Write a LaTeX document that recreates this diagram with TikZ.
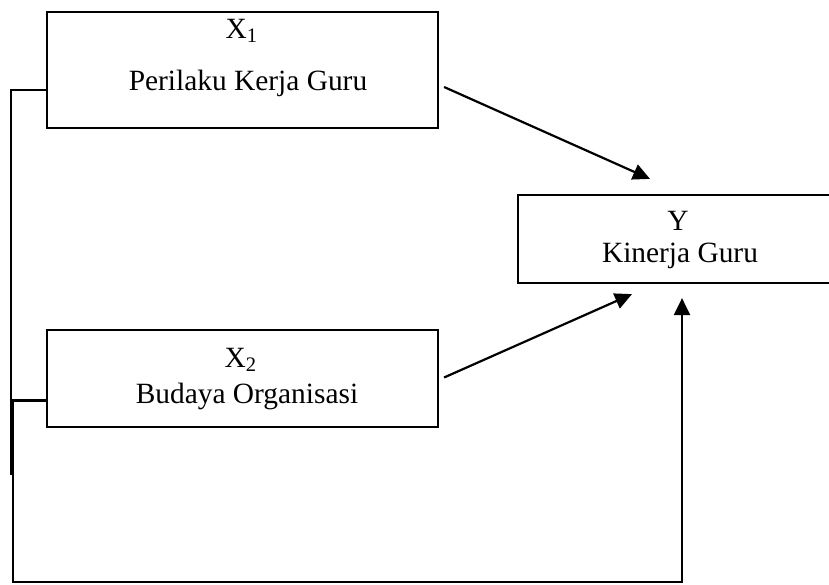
\documentclass[tikz,border=0pt]{standalone}
\usepackage{fontspec}
\setmainfont{Liberation Serif}
\usetikzlibrary{arrows.meta,positioning}
\tikzset{
  varbox/.style={rectangle,draw=black,line width=1.1pt,inner sep=0pt},
  lbl/.style={anchor=base,inner sep=0pt,font=\fontsize{14.7pt}{17pt}\selectfont},
  wire/.style={line width=1.1pt},
  tip/.style={-{Triangle[length=8.5pt,width=8pt]}}
}

\begin{document}
\begin{tikzpicture}[x=0.5pt,y=-0.5pt]
\useasboundingbox (0,0) rectangle (829,584);
% variable boxes
\node (x1) [varbox,minimum width=195.5pt,minimum height=58pt] at (242.5,70) {};
\node (x2) [varbox,minimum width=195.5pt,minimum height=48.5pt] at (242.5,378.5) {};
\node (y) [varbox,minimum width=157pt,minimum height=44pt] at (675,239) {};
%
\node (x1a) [lbl] at (242,38) {X\textsubscript{1}};
\node (x1b) [lbl] at (248,90) {Perilaku Kerja Guru};
\node (x2a) [lbl] at (241,367) {X\textsubscript{2}};
\node (x2b) [lbl] at (247,403) {Budaya Organisasi};
\node (ya) [lbl] at (678,230) {Y};
\node (yb) [lbl] at (680,262) {Kinerja Guru};
%
\coordinate (x1end) at (11,475);
\coordinate (corner) at (13,582);
\draw[wire] ([shift={(0,20)}]x1.west) -| (x1end);
\draw[wire,tip] ([shift={(0,22)}]x2.west) -| (corner) -| ([shift={(7,14)}]y.south);
\draw[wire,tip] ([shift={(5,17)}]x1.east) -- ([shift={(-25,-15)}]y.north);
\draw[wire,tip] ([shift={(5,-1)}]x2.east) -- ([shift={(-43,10)}]y.south);
\end{tikzpicture}
\end{document}
